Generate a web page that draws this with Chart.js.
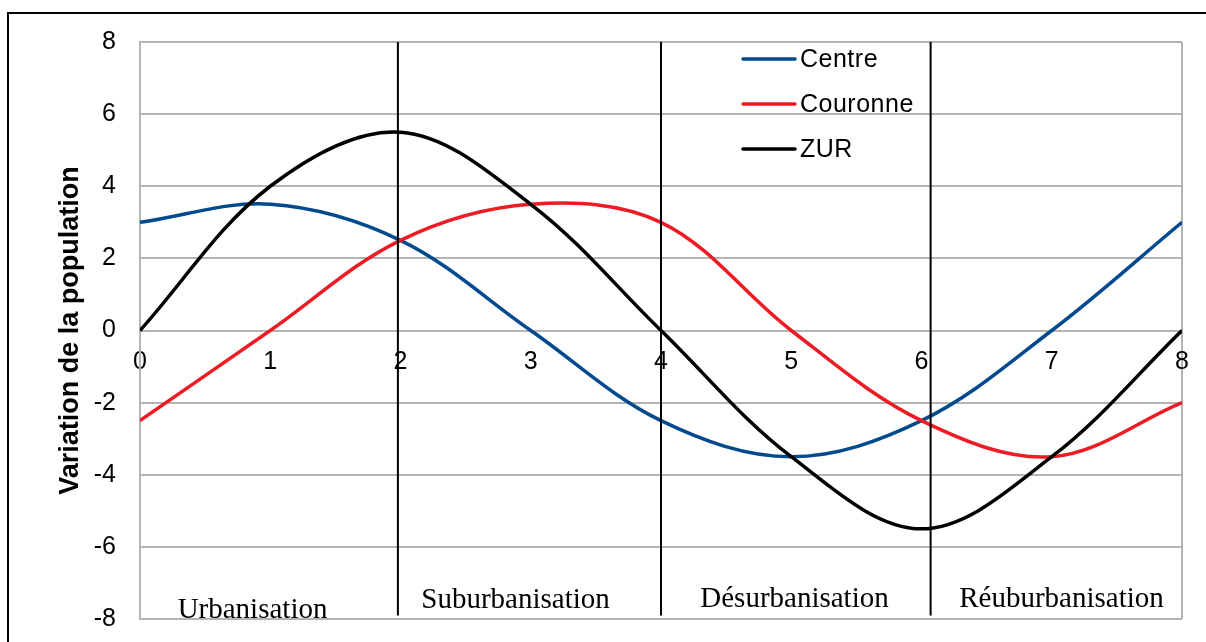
<!DOCTYPE html>
<html>
<head>
<meta charset="utf-8">
<script src="https://cdn.jsdelivr.net/npm/chart.js@4.4.0/dist/chart.umd.min.js"></script>
<style>
  html, body { margin: 0; padding: 0; background: #fff; }
</style>
</head>
<body>
<canvas id="myChart" width="1206" height="642"></canvas>
<script>
// data
const xValues = [0, 1, 2, 3, 4, 5, 6, 7, 8];
const centre = [3, 3.5, 2.5, 0, -2.5, -3.5, -2.5, 0, 3];
const couronne = [-2.5, 0, 2.5, 3.5, 3, 0, -2.5, -3.5, -2];
const zur = [0, 4, 5.5, 3.5, 0, -3.5, -5.5, -3.5, 0];
const seriesNames = ['Centre', 'Couronne', 'ZUR'];
const phaseBounds = [1.98, 4.0, 6.07];
const phaseNames = ['Urbanisation', 'Suburbanisation', 'Désurbanisation', 'Réuburbanisation'];
const xTicks = [0, 1, 2, 3, 4, 5, 6, 7, 8];
const yTicks = [-8, -6, -4, -2, 0, 2, 4, 6, 8];

const ctx = document.getElementById('myChart');
const sans = "'Liberation Sans', Arial, sans-serif";
const serif = "'Liberation Serif', 'Times New Roman', serif";
const colors = ['#004a8d', '#ed1c24', '#000000'];
const gridGray = '#b4b4b4';

function points(ys) {
    return xValues.map((x, i) => ({x: x, y: ys[i]}));
}

const datasets = [centre, couronne, zur].map((ys, i) => ({
    label: seriesNames[i],
    data: points(ys),
    borderColor: colors[i],
    borderWidth: 3.5,
    pointRadius: 0,
    tension: 0.35,
    fill: false,
    order: 3 - i
}));

phaseBounds.forEach(b => {
    datasets.push({
        label: '',
        data: [{x: b, y: 8}, {x: b, y: -7.9}],
        borderColor: '#000',
        borderWidth: 2,
        pointRadius: 0,
        tension: 0,
        order: 0
    });
});

// frame, legend inside the plot, phase names at the bottom
const overlay = {
    id: 'overlay',
    beforeDraw(chart) {
        const c = chart.ctx;
        c.save();
        c.fillStyle = '#fff';
        c.fillRect(0, 0, chart.width, chart.height);
        c.strokeStyle = '#000';
        c.lineWidth = 2;
        c.strokeRect(8, 13, chart.width + 20, chart.height + 20);
        c.restore();
    },
    afterDatasetsDraw(chart) {
        const c = chart.ctx;
        const xs = chart.scales.x;
        c.save();
        // legend
        c.font = '25px ' + sans;
        c.letterSpacing = '0.5px';
        c.textBaseline = 'middle';
        c.textAlign = 'left';
        seriesNames.forEach((name, i) => {
            const y = 59 + i * 45;
            c.strokeStyle = colors[i];
            c.lineWidth = 3.5;
            c.lineCap = 'round';
            c.beginPath();
            c.moveTo(743, y);
            c.lineTo(795, y);
            c.stroke();
            c.fillStyle = '#000';
            c.fillText(name, 800, y + 1);
        });
        c.letterSpacing = '0px';
        // phase names
        const labelAt = [0.864, 2.883, 5.025, 7.075];
        const baseAt = [618, 608, 607, 607];
        c.font = '29px ' + serif;
        c.textAlign = 'center';
        c.textBaseline = 'alphabetic';
        c.fillStyle = '#000';
        phaseNames.forEach((name, i) => {
            c.fillText(name, xs.getPixelForValue(labelAt[i]), baseAt[i]);
        });
        c.restore();
    }
};

new Chart(ctx, {
    type: 'line',
    data: { datasets: datasets },
    options: {
        responsive: false,
        animation: false,
        devicePixelRatio: 1,
        layout: { padding: { top: 42, right: 24, bottom: 23, left: 0 } },
        plugins: {
            legend: { display: false },
            tooltip: { enabled: false }
        },
        scales: {
            x: {
                type: 'linear',
                min: 0,
                max: 8,
                position: { y: 0 },
                afterFit: s => { s.height = 0; },
                afterBuildTicks: s => { s.ticks = xTicks.map(v => ({value: v})); },
                ticks: {
                    color: '#000',
                    font: { family: sans, size: 25 },
                    padding: 17,
                    maxRotation: 0,
                    autoSkip: false
                },
                grid: {
                    drawTicks: false,
                    lineWidth: 2,
                    color: c => (c.tick && (c.tick.value === 0 || c.tick.value === 8)) ? gridGray : 'rgba(0,0,0,0)'
                },
                border: { display: false }
            },
            y: {
                min: -8,
                max: 8,
                afterFit: s => {
                    s.width = 140;
                    s.paddingTop = 0;
                    s.paddingBottom = 0;
                },
                afterBuildTicks: s => { s.ticks = yTicks.map(v => ({value: v})); },
                ticks: {
                    color: '#000',
                    font: { family: sans, size: 25 },
                    padding: 24
                },
                grid: { drawTicks: false, color: gridGray, lineWidth: 2 },
                border: { display: true, color: gridGray, width: 2 },
                title: {
                    display: true,
                    text: 'Variation de la population',
                    color: '#000',
                    font: { family: sans, size: 27, weight: 'bold' },
                    padding: { top: 54, bottom: 0 }
                }
            }
        }
    },
    plugins: [overlay]
});
</script>
</body>
</html>
